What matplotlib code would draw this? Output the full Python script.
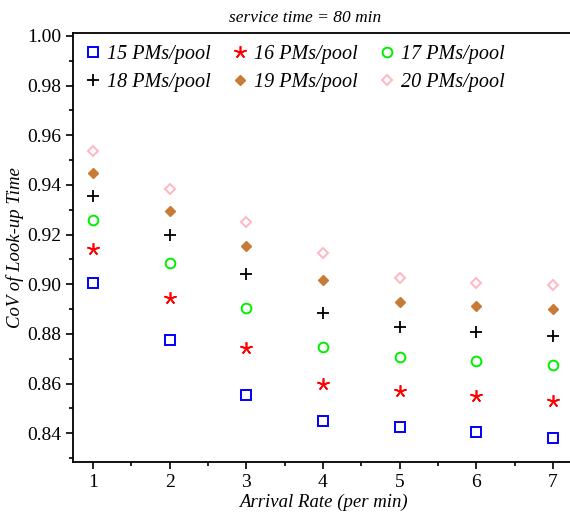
import matplotlib
matplotlib.use("Agg")
import matplotlib.pyplot as plt
from matplotlib.ticker import MultipleLocator, FormatStrFormatter

plt.rcParams['font.family'] = ['Liberation Serif', 'DejaVu Serif']

arrival_rate = [1, 2, 3, 4, 5, 6, 7]
pools = ["15 PMs/pool", "16 PMs/pool", "17 PMs/pool",
         "18 PMs/pool", "19 PMs/pool", "20 PMs/pool"]
cov_15 = [0.9006, 0.8775, 0.8555, 0.8449, 0.8424, 0.8403, 0.8382]
cov_16 = [0.9141, 0.8944, 0.8742, 0.8597, 0.8571, 0.8551, 0.8531]
cov_17 = [0.9258, 0.9084, 0.8906, 0.8746, 0.8708, 0.8691, 0.8673]
cov_18 = [0.9355, 0.9197, 0.9040, 0.8886, 0.8826, 0.8808, 0.8792]
cov_19 = [0.9449, 0.9296, 0.9155, 0.9016, 0.8930, 0.8914, 0.8901]
cov_20 = [0.9535, 0.9382, 0.9250, 0.9124, 0.9025, 0.9005, 0.8995]

series = [cov_15, cov_16, cov_17, cov_18, cov_19, cov_20]
styles = [
    dict(marker='s', mfc='none', mec='#0000ff', ms=6.6, mew=1.4),
    dict(marker=(5, 2, 0), mfc='#ff0000', mec='#ff0000', ms=9, mew=1.2),
    dict(marker='o', mfc='none', mec='#00ee00', ms=7, mew=1.4),
    dict(marker='+', mfc='k', mec='k', ms=8.5, mew=1.3),
    dict(marker='D', mfc='#c97a36', mec='#c97a36', ms=5.5, mew=1),
    dict(marker='D', mfc='none', mec='#ffb6c1', ms=5.5, mew=1.4),
]

fig = plt.figure(figsize=(5.7, 5.15), dpi=100)
ax = fig.add_axes([0.128, 0.103, 0.877, 0.833])

handles = []
for vals, st, lab in zip(series, styles, pools):
    h, = ax.plot(arrival_rate, vals, linestyle='none', label=lab, **st)
    handles.append(h)

ax.set_xlim(0.739, 7.26)
ax.set_ylim(0.8284, 1.0012)
ax.xaxis.set_major_locator(MultipleLocator(1))
ax.xaxis.set_minor_locator(MultipleLocator(0.5))
ax.yaxis.set_major_locator(MultipleLocator(0.02))
ax.yaxis.set_minor_locator(MultipleLocator(0.01))
ax.yaxis.set_major_formatter(FormatStrFormatter('%.2f'))
ax.tick_params(which='major', direction='out', length=5, width=1.2, labelsize=14)
ax.tick_params(which='minor', direction='out', length=3, width=1.2)
for s in ax.spines.values():
    s.set_linewidth(1.3)

ax.set_xlabel('Arrival Rate (per min)', fontsize=13.5, style='italic', labelpad=2)
ax.set_ylabel('CoV of Look-up Time', fontsize=13.5, style='italic', labelpad=2)
fig.text(0.535, 0.966, 'service time = 80 min', ha='center', va='center',
         fontsize=12.5, style='italic')

order = [0, 3, 1, 4, 2, 5]
ax.legend([handles[i] for i in order], [pools[i] for i in order],
          ncol=3, loc='upper left', bbox_to_anchor=(0.0, 1.0), frameon=False,
          prop=dict(family='Liberation Serif', style='italic', size=14.5),
          handlelength=0.8, handletextpad=0.3, columnspacing=1.05,
          labelspacing=0.42, borderpad=0.25, borderaxespad=0.35)

fig.savefig('out.png', dpi=100)
